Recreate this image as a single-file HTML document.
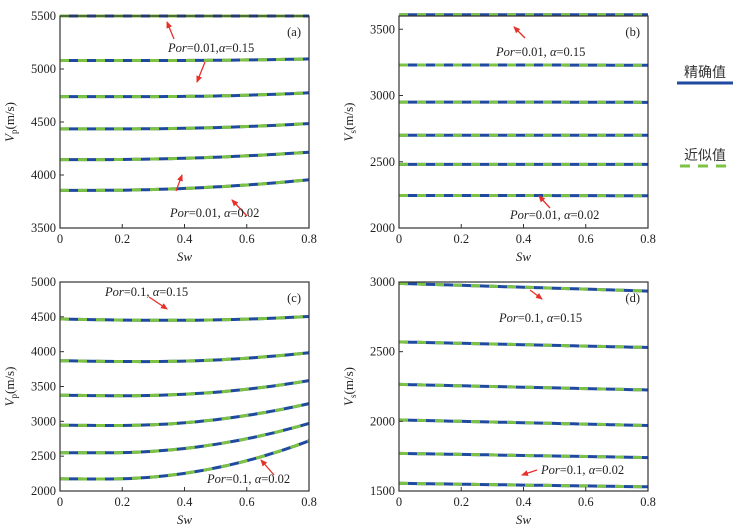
<!DOCTYPE html>
<html><head><meta charset="utf-8">
<style>
html,body{margin:0;padding:0;background:#fff;}
svg{display:block;font-family:"Liberation Serif","Noto Serif CJK SC",serif;}
</style></head>
<body>
<svg id="s" width="738" height="530" viewBox="0 0 738 530" xmlns="http://www.w3.org/2000/svg">
<defs><marker id="ar" markerWidth="8" markerHeight="8" refX="6" refY="3" orient="auto" markerUnits="userSpaceOnUse"><path d="M0,0 L7,3 L0,6 z" fill="#e8302a"/></marker></defs>
<g id="g"></g>
<text x="705" y="77" font-size="14" text-anchor="middle" fill="#333" font-family="Noto Sans CJK SC, sans-serif">精确值</text>
<line x1="677" y1="83" x2="733" y2="83" stroke="#1f4aa0" stroke-width="3"/>
<text x="705" y="160" font-size="14" text-anchor="middle" fill="#333" font-family="Noto Sans CJK SC, sans-serif">近似值</text>
<line x1="680" y1="166" x2="733" y2="166" stroke="#7dc242" stroke-width="3" stroke-dasharray="10,8"/>
</svg>
<script>
var g=document.getElementById('g'),h='';
function panel(x0,y0,x1,y1,vmin,vmax,ticks,curves,lab,sub,ann){
 var sx=function(t){return x0+(x1-x0)*t/0.8},sy=function(v){return y1-(y1-y0)*(v-vmin)/(vmax-vmin)};
 curves.forEach(function(c){var p='';for(var i=0;i<=40;i++){var t=i/40*0.8;var a=c[0],m=c[1],b=c[2],tm=c[3];
  var v; if(tm<0){v=a+(b-a)*t/0.8;} else if(t<=tm){var u=t/tm;v=a+(m-a)*(1-(1-u)*(1-u));}else{var u=(t-tm)/(0.8-tm);v=m+(b-m)*u*u;}
  p+=(i?'L':'M')+sx(t).toFixed(1)+','+sy(v).toFixed(1);}
  h+='<path d="'+p+'" fill="none" stroke="#1f4aa0" stroke-width="3"/><path d="'+p+'" fill="none" stroke="#7dc242" stroke-width="3" stroke-dasharray="9,9"/>';});
 h+='<rect x="'+x0+'" y="'+y0+'" width="'+(x1-x0)+'" height="'+(y1-y0)+'" fill="none" stroke="#333" stroke-width="1.2"/>';
 [0,0.2,0.4,0.6,0.8].forEach(function(t){var x=sx(t);h+='<line x1="'+x+'" y1="'+y1+'" x2="'+x+'" y2="'+(y1-4)+'" stroke="#333"/><text x="'+x+'" y="'+(y1+15)+'" font-size="12.5" text-anchor="middle" fill="#222">'+(t==0?'0':t.toFixed(1))+'</text>';});
 ticks.forEach(function(v){var y=sy(v);h+='<line x1="'+x0+'" y1="'+y+'" x2="'+(x0+4)+'" y2="'+y+'" stroke="#333"/><text x="'+(x0-4)+'" y="'+(y+4)+'" font-size="12.5" text-anchor="end" fill="#222">'+v+'</text>';});
 h+='<text x="'+((x0+x1)/2)+'" y="'+(y1+33)+'" font-size="13" font-style="italic" text-anchor="middle" fill="#222">Sw</text>';
 var cy=(y0+y1)/2;
 h+='<text transform="translate('+(x0-46)+','+cy+') rotate(-90)" font-size="13" text-anchor="middle" fill="#222"><tspan font-style="italic">V</tspan><tspan font-size="9" dy="3">'+sub+'</tspan><tspan dy="-3">(m/s)</tspan></text>';
 h+='<text x="'+(x1-8)+'" y="'+(y0+20)+'" font-size="12.5" text-anchor="end" fill="#222">'+lab+'</text>';
 ann.forEach(function(a){h+='<line x1="'+a[0]+'" y1="'+a[1]+'" x2="'+a[2]+'" y2="'+a[3]+'" stroke="#e8302a" stroke-width="1.3" marker-end="url(#ar)"/>';});
}
function txt(x,y,s){h+='<text x="'+x+'" y="'+y+'" font-size="12.5" fill="#222"><tspan font-style="italic">Por</tspan>'+s+'</text>';}
panel(60,16,309,228,3500,5500,[3500,4000,4500,5000,5500],
 [[5500,5500,5500,0.4],[5080,5080,5095,0.3],[4740,4740,4775,0.3],[4435,4435,4485,0.2],[4145,4145,4215,0.1],[3855,3855,3955,0.1]],
 '(a)','p',[[174,39,167,22],[205,62,197,82],[176,191,182,175],[247,216,232,200]]);
txt(168,52,'=0.01,<tspan font-style="italic">α</tspan>=0.15');
txt(170,217,'=0.01, <tspan font-style="italic">α</tspan>=0.02');
panel(399,16,648,228,2000,3600,[2000,2500,3000,3500],
 [[3610,3610,3610,0.4],[3230,3230,3228,0.4],[2950,2950,2948,0.4],[2700,2700,2700,0.4],[2480,2480,2480,0.4],[2245,2245,2243,0.4]],
 '(b)','s',[[525,38,514,27],[550,208,539,196]]);
txt(496,56,'=0.01, <tspan font-style="italic">α</tspan>=0.15');
txt(510,219,'=0.01, <tspan font-style="italic">α</tspan>=0.02');
panel(60,282,309,491,2000,5000,[2000,2500,3000,3500,4000,4500,5000],
 [[4470,4450,4505,0.35],[3870,3858,3985,0.28],[3375,3368,3585,0.22],[2945,2940,3255,0.18],[2550,2548,2970,0.15],[2175,2172,2720,0.15]],
 '(c)','p',[[149,297,167,309],[274,475,261,460]]);
txt(105,296,'=0.1, <tspan font-style="italic">α</tspan>=0.15');
txt(207,483,'=0.1, <tspan font-style="italic">α</tspan>=0.02');
panel(399,282,648,491,1500,3000,[1500,2000,2500,3000],
 [[2990,0,2935,-1],[2570,0,2530,-1],[2265,0,2225,-1],[2010,0,1970,-1],[1770,0,1740,-1],[1555,0,1530,-1]],
 '(d)','s',[[530,290,542,299],[537,470,522,475]]);
txt(499,322,'=0.1, <tspan font-style="italic">α</tspan>=0.15');
txt(541,474,'=0.1, <tspan font-style="italic">α</tspan>=0.02');
g.innerHTML=h;
</script>
</body></html>
